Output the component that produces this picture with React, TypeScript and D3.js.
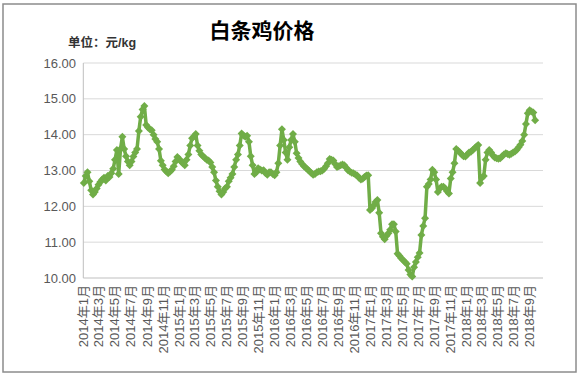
import React from "react";
import * as d3 from "d3";

const title = "白条鸡价格";
const unitLabel = "单位：元/kg";
const firstWeek = "2014-01-03";
const yTicks = [10, 11, 12, 13, 14, 15, 16];
const xTickLabels = [
  "2014年1月", "2014年3月", "2014年5月", "2014年7月", "2014年9月", "2014年11月",
  "2015年1月", "2015年3月", "2015年5月", "2015年7月", "2015年9月", "2015年11月",
  "2016年1月", "2016年3月", "2016年5月", "2016年7月", "2016年9月", "2016年11月",
  "2017年1月", "2017年3月", "2017年5月", "2017年7月", "2017年9月", "2017年11月",
  "2018年1月", "2018年3月", "2018年5月", "2018年7月", "2018年9月",
];
// weekly prices (元/kg)
const prices = [
  12.65, 12.85, 12.95, 12.7, 12.45, 12.33, 12.4, 12.5, 12.6, 12.68,
  12.75, 12.8, 12.72, 12.85, 12.82, 12.92, 13.05, 13.3, 13.57, 12.9,
  13.6, 13.94, 13.6, 13.4, 13.25, 13.15, 13.25, 13.39, 13.5, 13.6,
  14.1, 14.5, 14.7, 14.8, 14.27, 14.2, 14.15, 14.12, 14.0, 13.88,
  13.8, 13.6, 13.27, 13.15, 13.03, 12.97, 12.92, 12.97, 13.02, 13.12,
  13.25, 13.38, 13.32, 13.25, 13.2, 13.15, 13.3, 13.45, 13.7, 13.9,
  13.95, 14.02, 13.7, 13.55, 13.45, 13.4, 13.35, 13.3, 13.28, 13.22,
  13.1, 12.95, 12.72, 12.55, 12.42, 12.33, 12.4, 12.5, 12.55, 12.7,
  12.8, 12.9, 13.1, 13.3, 13.45, 13.7, 14.03, 13.98, 13.94, 13.97,
  13.8, 13.4, 13.15, 12.9, 12.95, 13.06, 13.03, 13.0, 13.01, 12.93,
  12.88, 12.95, 12.95, 12.9, 12.87, 12.95, 13.2, 13.7, 14.15, 13.85,
  13.5, 13.3, 13.65, 13.85, 14.02, 13.8, 13.48, 13.35, 13.25, 13.18,
  13.12, 13.08, 13.03, 12.98, 12.93, 12.88, 12.9, 12.95, 12.97, 12.98,
  13.0, 13.05, 13.12, 13.2, 13.32, 13.3, 13.28, 13.18, 13.1, 13.12,
  13.15, 13.17, 13.15, 13.08, 13.01, 12.97, 12.94, 12.92, 12.89, 12.86,
  12.8, 12.75, 12.77, 12.82, 12.86, 12.87, 11.9, 11.95, 12.02, 12.12,
  12.18, 11.82, 11.25, 11.15, 11.08, 11.18, 11.25, 11.35, 11.5, 11.5,
  11.3, 10.68, 10.62, 10.55, 10.5, 10.45, 10.4, 10.22, 10.1, 10.04,
  10.3, 10.45, 10.58, 10.7, 11.2, 11.45, 11.67, 12.55, 12.62, 12.75,
  13.02, 12.95, 12.75, 12.4, 12.5, 12.55, 12.55, 12.5, 12.42, 12.36,
  12.78, 12.95, 13.2, 13.6, 13.55, 13.5, 13.45, 13.4, 13.39, 13.45,
  13.5, 13.52, 13.57, 13.62, 13.67, 13.71, 12.65, 12.8, 12.85, 13.3,
  13.5, 13.57, 13.5, 13.42, 13.36, 13.34, 13.33, 13.34, 13.4, 13.45,
  13.48, 13.46, 13.44, 13.47, 13.5, 13.53, 13.58, 13.65, 13.72, 13.82,
  14.0, 14.3, 14.6, 14.68, 14.65, 14.62, 14.4,
];

const W = 579;
const H = 380;
const plot = { left: 83.3, right: 543, top: 63, bottom: 278 };
const green = "#70AD47";
const textGrey = "#595959";
const cjk = "'Liberation Sans', 'Noto Sans CJK SC', sans-serif";

function parseLabel(s: string): Date {
  const m = s.match(/(\d+)年(\d+)月/)!;
  return new Date(+m[1], +m[2] - 1, 1);
}

export default function App() {
  const start = d3.timeParse("%Y-%m-%d")(firstWeek)!;
  const data = prices.map((v, i) => ({ date: d3.timeDay.offset(start, 7 * i), v }));

  const x = d3
    .scaleTime()
    .domain([new Date(2014, 0, 1), new Date(2018, 9, 21)])
    .range([plot.left, plot.right]);
  const y = d3.scaleLinear().domain([10, 16]).range([plot.bottom, plot.top]);

  const line = d3
    .line<{ date: Date; v: number }>()
    .x((d) => x(d.date))
    .y((d) => y(d.v));

  const marker = d3.symbol().type(d3.symbolSquare).size(32)()!;

  return (
    <svg
      width={W}
      height={H}
      style={{ position: "absolute", left: 0, top: 0, background: "#fff" }}
    >
      <rect x={0} y={0} width={W} height={H} fill="#fff" />
      <rect x={3} y={4} width={573} height={368} fill="#fff" stroke="#8c8c8c" strokeWidth={1.5} />
      <text
        x={262}
        y={38}
        textAnchor="middle"
        fontFamily="'Noto Sans CJK SC', sans-serif"
        fontWeight="bold"
        fontSize={21}
        fill="#000"
      >
        {title}
      </text>
      <text
        x={68}
        y={47}
        fontFamily={cjk}
        fontWeight="bold"
        fontSize={12.5}
        fill="#333"
      >
        {unitLabel}
      </text>

      {yTicks.map((t) => (
        <g key={t}>
          <line
            x1={plot.left}
            x2={plot.right}
            y1={y(t)}
            y2={y(t)}
            stroke={t === 10 ? "#bfbfbf" : "#d9d9d9"}
            strokeWidth={1}
          />
          <text
            x={76}
            y={y(t)}
            dy="0.35em"
            textAnchor="end"
            fontFamily="'Liberation Sans', Arial, sans-serif"
            fontSize={13}
            fill={textGrey}
          >
            {t.toFixed(2)}
          </text>
        </g>
      ))}
      <line x1={plot.left} x2={plot.left} y1={plot.top} y2={plot.bottom} stroke="#bfbfbf" />

      {xTickLabels.map((s) => {
        const px = x(parseLabel(s));
        return (
          <text
            key={s}
            transform={`translate(${px},285) rotate(-90)`}
            dy="0.35em"
            textAnchor="end"
            fontFamily={cjk}
            fontSize={13}
            fill={textGrey}
          >
            {s}
          </text>
        );
      })}

      <path d={line(data)!} fill="none" stroke={green} strokeWidth={3.5} strokeLinejoin="round" />
      {data.map((d, i) => (
        <path
          key={i}
          d={marker}
          transform={`translate(${x(d.date)},${y(d.v)}) rotate(45)`}
          fill={green}
        />
      ))}
    </svg>
  );
}
